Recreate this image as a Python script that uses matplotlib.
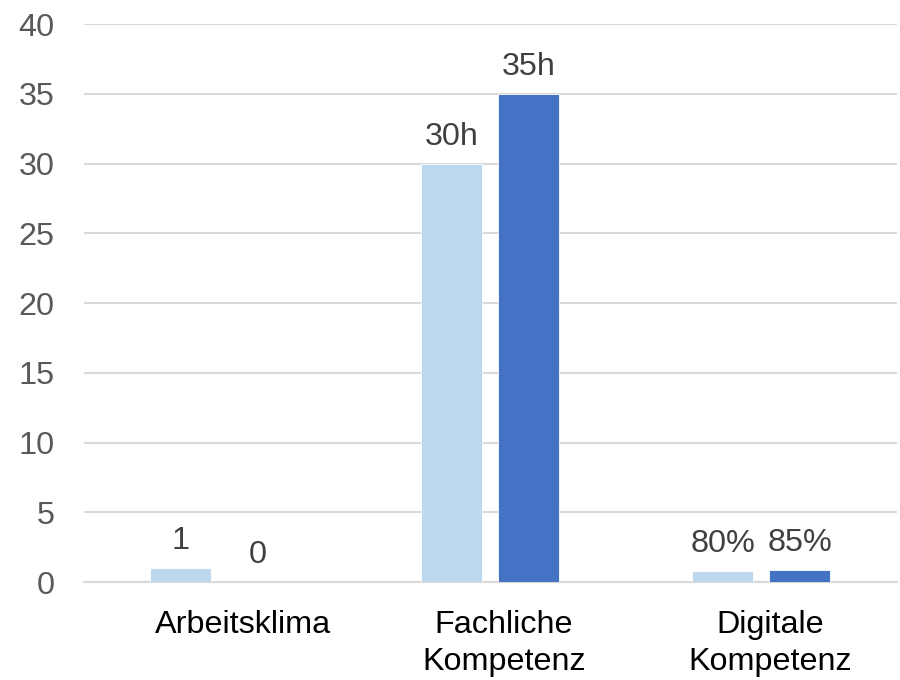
import matplotlib.pyplot as plt
import numpy as np

plt.rcParams['font.family'] = ['Liberation Sans', 'DejaVu Sans']

# Data
categories = ["Arbeitsklima", "Fachliche\nKompetenz", "Digitale\nKompetenz"]
series_a = [1, 30, 0.8]
series_b = [0, 35, 0.85]
labels_a = ["1", "30h", "80%"]
labels_b = ["0", "35h", "85%"]
yticks = [0, 5, 10, 15, 20, 25, 30, 35, 40]

color_a = "#BDD7EE"
color_b = "#4472C4"
fs = 23.3

fig = plt.figure(figsize=(9, 6.8), dpi=100)
ax = fig.add_axes([0.0928, 0.1441, 0.9039, 0.8206])

x = np.arange(len(categories))
w = 0.225
off = 0.142

bars_a = ax.bar(x - off, series_a, w, color=color_a, edgecolor="white", linewidth=0.6, zorder=3)
bars_b = ax.bar(x + off, series_b, w, color=color_b, edgecolor="white", linewidth=0.6, zorder=3)

for bars, labs in [(bars_a, labels_a), (bars_b, labels_b)]:
    for b, lab in zip(bars, labs):
        ax.annotate(lab, (b.get_x() + b.get_width() / 2, b.get_height()),
                    xytext=(0, 8.5), textcoords="offset points",
                    ha="center", va="bottom", fontsize=fs, color="#404040")

ax.set_xlim(-0.5, 2.5)
ax.set_ylim(0, 40)
ax.set_yticks(yticks)
# category labels sit slightly right of the bar groups in the original
ax.set_xticks(x + np.array([0.088, 0.05, 0.031]))
ax.set_xticklabels(categories, linespacing=1.33)

ax.grid(axis="y", color="#D9D9D9", linewidth=1.5, zorder=0)
for s in ["top", "right", "left"]:
    ax.spines[s].set_visible(False)
ax.spines["bottom"].set_color("#D9D9D9")
ax.spines["bottom"].set_linewidth(1.5)

ax.tick_params(axis="y", length=0, pad=21, labelsize=fs, labelcolor="#595959")
ax.tick_params(axis="x", length=0, pad=20, labelsize=fs, labelcolor="#000000")

fig.savefig("out.png", dpi=100)
